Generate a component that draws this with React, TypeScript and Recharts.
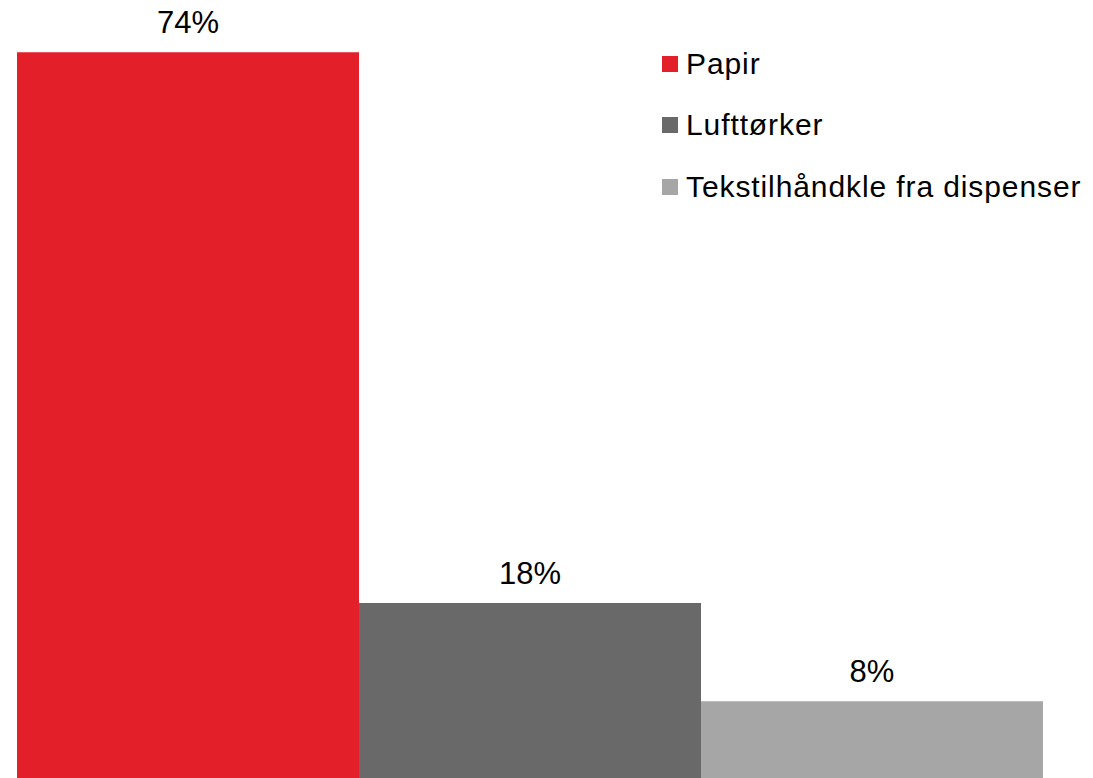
import React from "react";
import { BarChart, Bar, XAxis, YAxis, Legend, LabelList } from "recharts";

const categories = ["Håndtørking"];
const seriesNames = ["Papir", "Lufttørker", "Tekstilhåndkle fra dispenser"];
const seriesKeys = ["papir", "lufttorker", "tekstil"];
const seriesValues = [74, 18, 8];
const seriesColors = ["#E31F29", "#696969", "#A6A6A6"];

const data = categories.map((c) => {
  const row: Record<string, string | number> = { name: c };
  seriesKeys.forEach((k, i) => {
    row[k] = seriesValues[i];
  });
  return row;
});

const FONT = "'Liberation Sans', Arial, sans-serif";

const LegendContent = () => (
  <div style={{ fontFamily: FONT }}>
    {seriesNames.map((n, i) => (
      <div
        key={n}
        style={{ display: "flex", alignItems: "center", height: 61.5, fontSize: 30, letterSpacing: 0.9, color: "#000" }}
      >
        <span
          style={{
            display: "inline-block",
            width: 16,
            height: 16,
            background: seriesColors[i],
            marginRight: 8,
          }}
        />
        <span>{n}</span>
      </div>
    ))}
  </div>
);

export default function App() {
  return (
    <div style={{ position: "absolute", left: 0, top: 0, background: "#fff" }}>
      <BarChart
        width={1093}
        height={780}
        data={data}
        margin={{ top: 0, right: 50, bottom: 0, left: 17 }}
        barCategoryGap={0}
        barGap={0}
      >
        <XAxis dataKey="name" hide />
        <YAxis hide domain={[0, 79.3]} />
        <Legend
          layout="vertical"
          verticalAlign="middle"
          align="center"
          content={<LegendContent />}
          wrapperStyle={{ position: "absolute", left: 662, top: 33, width: 430 }}
        />
        {seriesKeys.map((k, i) => (
          <Bar key={k} dataKey={k} name={seriesNames[i]} fill={seriesColors[i]} isAnimationActive={false}>
            <LabelList
              dataKey={k}
              position="top"
              offset={19}
              formatter={(v: number) => `${v}%`}
              style={{ fontFamily: FONT, fontSize: 31, fill: "#000" }}
            />
          </Bar>
        ))}
      </BarChart>
    </div>
  );
}
